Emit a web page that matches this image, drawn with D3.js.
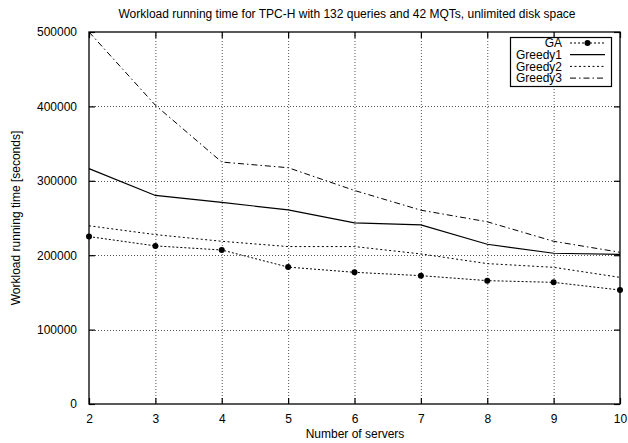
<!DOCTYPE html>
<html><head><meta charset="utf-8">
<script src="https://cdn.jsdelivr.net/npm/d3@7"></script>
<style>
html,body{margin:0;padding:0;background:#fff;}
svg text{font-family:"Liberation Sans",Arial,Helvetica,sans-serif;fill:#000;}
</style></head>
<body><svg id="c" width="628" height="443"></svg>
<script>
const servers = [2,3,4,5,6,7,8,9,10];
const gaValues      = [225000,212500,207000,184000,177000,172500,165800,163500,153200];
const greedy1Values = [316300,280300,270900,261000,243500,240800,214700,202600,201200];
const greedy2Values = [239500,227700,218700,211600,211600,201700,188700,183700,170200];
const greedy3Values = [500000,401600,325200,317600,287000,260500,244900,218700,203900];
const seriesNames = ["GA","Greedy1","Greedy2","Greedy3"];
const yTicks = [0,100000,200000,300000,400000,500000];
const titleText = "Workload running time for TPC-H with 132 queries and 42 MQTs, unlimited disk space";
const xLabel = "Number of servers";
const yLabel = "Workload running time [seconds]";

const styles = {
  GA: {dash:"2,2", marker:true, width:1},
  Greedy1: {dash:null, marker:false, width:1.2},
  Greedy2: {dash:"2,2.5", marker:false, width:1},
  Greedy3: {dash:"6,3,1.5,3", marker:false, width:1}
};
const seriesData = {GA:gaValues, Greedy1:greedy1Values, Greedy2:greedy2Values, Greedy3:greedy3Values};

const svg = d3.select("#c");
const L=89, R=620, T=32, B=404;
const x = d3.scaleLinear().domain([2,10]).range([L,R]);
const y = d3.scaleLinear().domain([0,500000]).range([B,T]);

// grid
const g = svg.append("g");
g.selectAll(".gx").data(servers.slice(1,-1)).enter().append("line")
  .attr("x1",d=>x(d)+0.5).attr("x2",d=>x(d)+0.5).attr("y1",T).attr("y2",B)
  .attr("stroke","#555").attr("stroke-width",1).attr("stroke-dasharray","1,2");
g.selectAll(".gy").data(yTicks.slice(1,-1)).enter().append("line")
  .attr("y1",d=>Math.round(y(d))+0.5).attr("y2",d=>Math.round(y(d))+0.5).attr("x1",L).attr("x2",R)
  .attr("stroke","#555").attr("stroke-width",1).attr("stroke-dasharray","1,2");

// axes
const xAxisB = d3.axisBottom(x).tickValues(servers).tickSize(-6).tickPadding(10).tickFormat(d3.format("d"));
const xAxisT = d3.axisTop(x).tickValues(servers).tickSize(-6).tickFormat("");
const yAxisL = d3.axisLeft(y).tickValues(yTicks).tickSize(-6).tickPadding(12).tickFormat(d3.format("d"));
const yAxisR = d3.axisRight(y).tickValues(yTicks).tickSize(-6).tickFormat("");
function styleAxis(sel){
  sel.select(".domain").remove();
  sel.selectAll(".tick line").attr("stroke","#000").attr("stroke-width",1.2);
  sel.selectAll("text").style("font-size","12px").attr("fill","#000");
}
svg.append("g").attr("transform",`translate(0,${B})`).call(xAxisB).call(styleAxis);
svg.append("g").attr("transform",`translate(0,${T})`).call(xAxisT).call(styleAxis);
svg.append("g").attr("transform",`translate(${L},0)`).call(yAxisL).call(styleAxis);
svg.append("g").attr("transform",`translate(${R},0)`).call(yAxisR).call(styleAxis);

// series
const line = d3.line().x((d,i)=>x(servers[i])).y(d=>y(d));
seriesNames.forEach(n=>{
  const s = styles[n];
  svg.append("path").datum(seriesData[n]).attr("d",line)
    .attr("fill","none").attr("stroke","#000").attr("stroke-width",s.width)
    .attr("stroke-dasharray",s.dash);
  if(s.marker){
    svg.selectAll(".m"+n).data(seriesData[n]).enter().append("circle")
      .attr("cx",(d,i)=>x(servers[i])).attr("cy",d=>y(d)).attr("r",3).attr("fill","#000");
  }
});

// frame
svg.append("rect").attr("x",L).attr("y",T).attr("width",R-L).attr("height",B-T)
  .attr("fill","none").attr("stroke","#000").attr("stroke-width",1.3);

// legend
const lg = svg.append("g");
lg.append("rect").attr("x",510.5).attr("y",37.5).attr("width",101).attr("height",49)
  .attr("fill","#fff").attr("stroke","#000").attr("stroke-width",1.2);
seriesNames.forEach((n,i)=>{
  const yy = 43 + i*11.7;
  const s = styles[n];
  lg.append("text").attr("x",562).attr("y",yy+4.3).attr("text-anchor","end")
    .style("font-size","12px").text(n);
  lg.append("line").attr("x1",570).attr("x2",605).attr("y1",yy).attr("y2",yy)
    .attr("stroke","#000").attr("stroke-width",s.width).attr("stroke-dasharray",s.dash);
  if(s.marker) lg.append("circle").attr("cx",587.5).attr("cy",yy).attr("r",3).attr("fill","#000");
});

// labels
svg.append("text").attr("x",347).attr("y",18).attr("text-anchor","middle")
  .style("font-size","12px").text(titleText);
svg.append("text").attr("x",355).attr("y",438).attr("text-anchor","middle")
  .style("font-size","12px").text(xLabel);
svg.append("text").attr("transform","translate(20,218) rotate(-90)").attr("text-anchor","middle")
  .style("font-size","12px").text(yLabel);
</script></body></html>
